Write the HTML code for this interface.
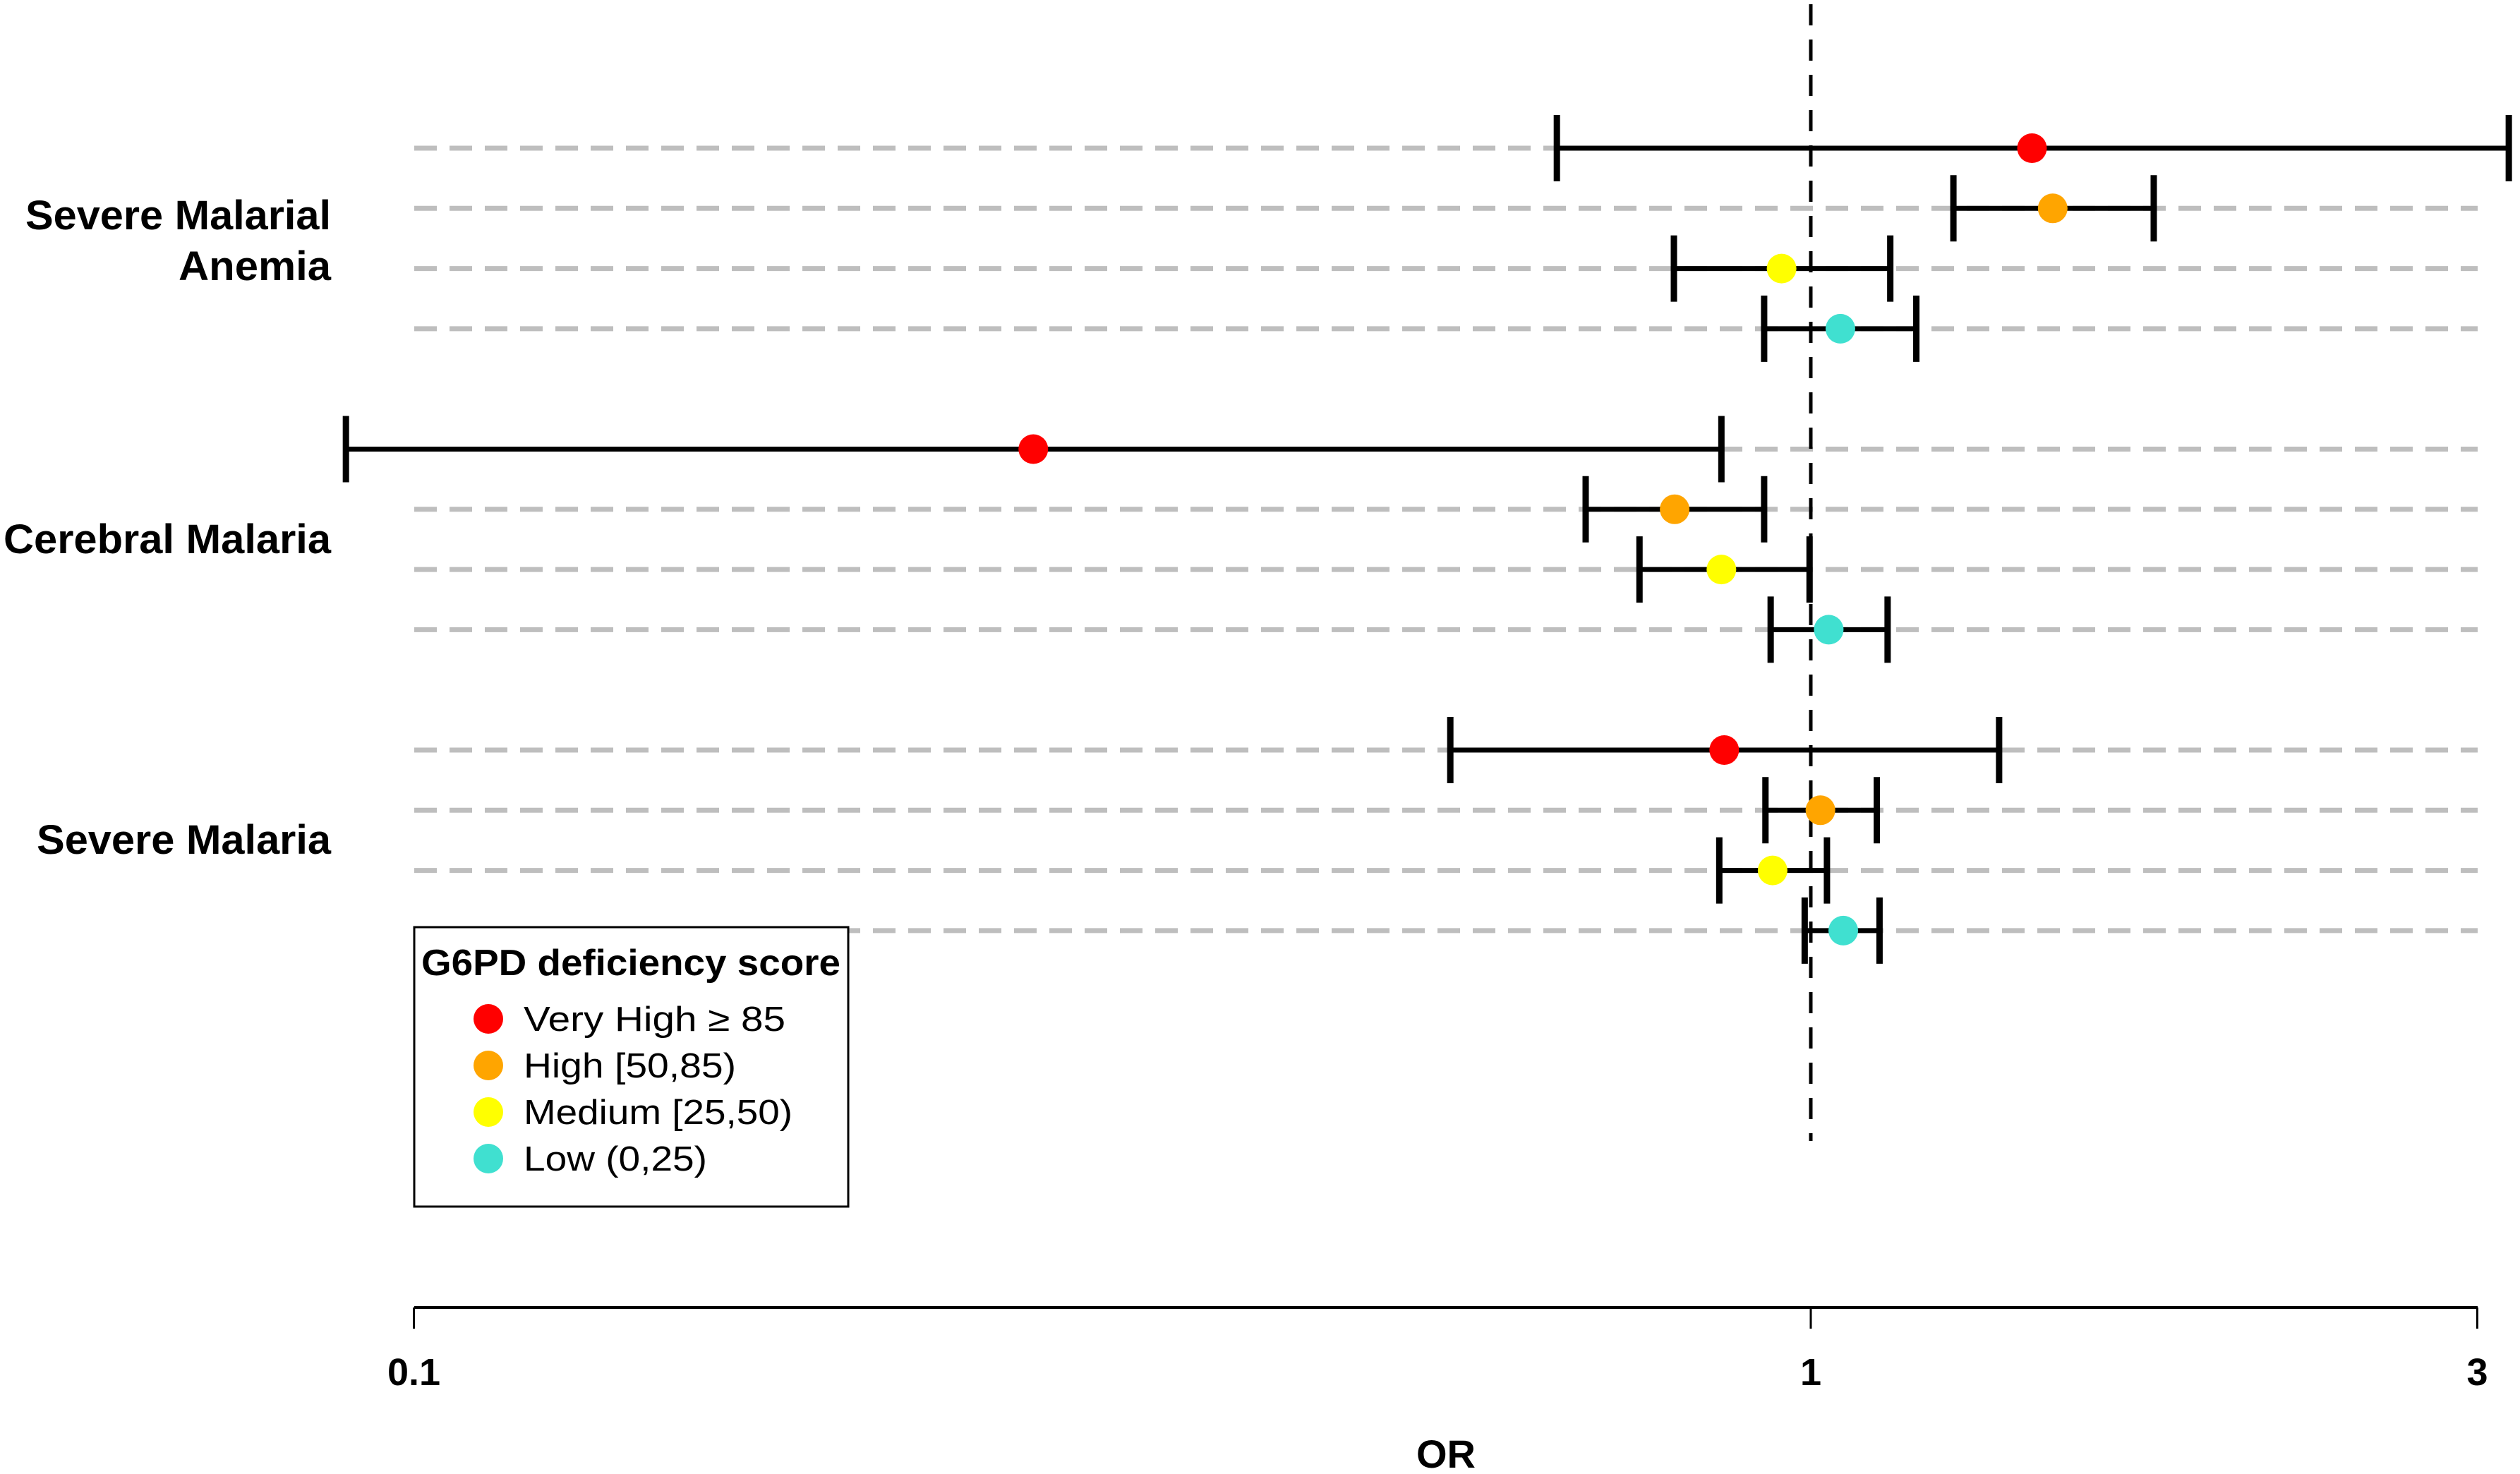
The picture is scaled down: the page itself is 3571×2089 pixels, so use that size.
<!DOCTYPE html>
<html><head><meta charset="utf-8"><style>
html,body{margin:0;padding:0;background:#fff}
svg{display:block}
text{font-family:"Liberation Sans",sans-serif}
</style></head><body>
<svg id="chart" width="3571" height="2089" viewBox="0 0 3571 2089" xmlns="http://www.w3.org/2000/svg">
<rect width="3571" height="2089" fill="#fff"/>
<g id="grid"></g>
<line x1="2566" y1="6" x2="2566" y2="1617" stroke="#000" stroke-width="5" stroke-dasharray="30 20"/>
<g id="marks"></g>
<text x="469" y="325" text-anchor="end" font-weight="bold" font-size="58" textLength="433" lengthAdjust="spacingAndGlyphs">Severe Malarial</text>
<text x="469" y="397" text-anchor="end" font-weight="bold" font-size="58" textLength="216" lengthAdjust="spacingAndGlyphs">Anemia</text>
<text x="469" y="784" text-anchor="end" font-weight="bold" font-size="58" textLength="464" lengthAdjust="spacingAndGlyphs">Cerebral Malaria</text>
<text x="469" y="1210" text-anchor="end" font-weight="bold" font-size="58" textLength="417" lengthAdjust="spacingAndGlyphs">Severe Malaria</text>
<g>
<rect x="587" y="1314" width="615" height="396" fill="#fff" stroke="#000" stroke-width="3"/>
<text x="597" y="1382" font-weight="bold" font-size="52" textLength="594" lengthAdjust="spacingAndGlyphs">G6PD deficiency score</text>
<g id="legend-entries"></g>
</g>
<line x1="587" y1="1853" x2="3511" y2="1853" stroke="#000" stroke-width="4"/>
<g id="ticks"></g>
<text x="2049" y="2080" text-anchor="middle" font-weight="bold" font-size="56">OR</text>
</svg>
<script>
const rowSlots = [0,1,2,3,5,6,7,8,10,11,12,13];
const orValues = [1.44,1.49,0.953,1.05, 0.2776,0.799,0.863,1.03, 0.867,1.016,0.939,1.055];
const ciLower  = [0.658,1.265,0.798,0.926, 0.0894,0.69,0.754,0.936, 0.552,0.928,0.86,0.99];
const ciUpper  = [3.16,1.76,1.14,1.19, 0.863,0.926,0.998,1.135, 1.364,1.115,1.027,1.12];
const categoryIdx = [0,1,2,3, 0,1,2,3, 0,1,2,3];
const categoryNames = ["Very High  \u2265 85","High [50,85)","Medium [25,50)","Low (0,25)"];
const categoryColors = ["#ff0000","#ffa500","#ffff00","#40e0d0"];
const tickValues = [0.1,1,3];
const tickLabels = ["0.1","1","3"];

const NS="http://www.w3.org/2000/svg";
const x=v=>2566+1979.5*Math.log10(v);
const y=s=>210+85.3*s;
const legendWidths=[371,301,381,260];
function mk(tag,attrs,parent){const e=document.createElementNS(NS,tag);for(const k in attrs)e.setAttribute(k,attrs[k]);parent.appendChild(e);return e;}
const grid=document.getElementById('grid'),marks=document.getElementById('marks');
rowSlots.forEach((s,i)=>{
  const g=mk('line',{x1:587,x2:3511,y1:y(s),y2:y(s),stroke:'#bebebe','stroke-width':7,'stroke-dasharray':'32 18'},grid);
  
  
  const grp=mk('g',{},marks);
  
  
  const yy=y(s),a=x(ciLower[i]),b=x(ciUpper[i]);
  const h=mk('line',{x1:a,x2:b,y1:yy,y2:yy,stroke:'#000','stroke-width':7},grp);
  
  
  [a,b].forEach(xx=>{const c=mk('line',{x1:xx,x2:xx,y1:yy-47,y2:yy+47,stroke:'#000','stroke-width':9},grp);
    
    });
  const p=mk('circle',{cx:x(orValues[i]),cy:yy,r:21,fill:categoryColors[categoryIdx[i]]},grp);
  
  
});
const le=document.getElementById('legend-entries');
categoryNames.forEach((n,i)=>{
  const cy=1444+66*i;
  const c=mk('circle',{cx:692,cy:cy,r:21,fill:categoryColors[i]},le);
  
  
  const t=mk('text',{x:742,y:cy+17,'font-size':49,textLength:legendWidths[i],lengthAdjust:'spacingAndGlyphs'},le);
  t.textContent=n;
  
  
});
const tk=document.getElementById('ticks');
tickValues.forEach((v,i)=>{
  const l=mk('line',{x1:x(v),x2:x(v),y1:1853,y2:1883,stroke:'#000','stroke-width':3},tk);
  
  
  const t=mk('text',{x:x(v),y:1963,'text-anchor':'middle','font-weight':'bold','font-size':54},tk);
  t.textContent=tickLabels[i];
  
  
});
</script>
</body></html>
